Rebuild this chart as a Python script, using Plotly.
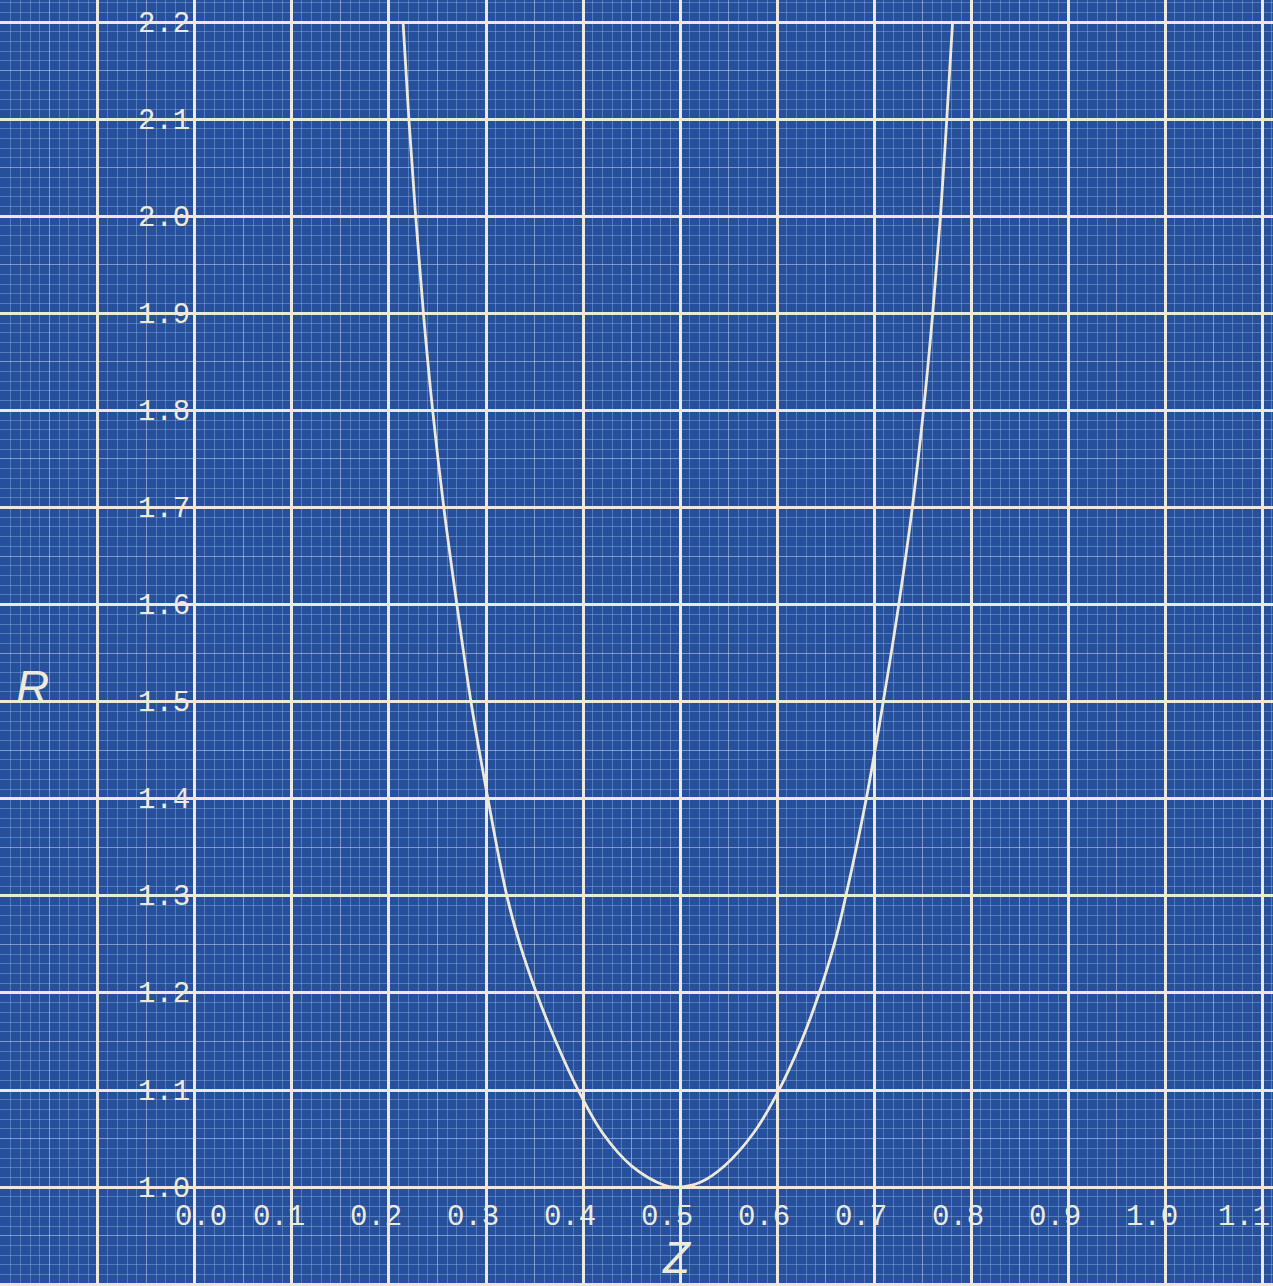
import plotly.graph_objects as go

# ---- data ----
z_values = [0.2145, 0.2205, 0.2275, 0.2355, 0.245, 0.2565, 0.270, 0.2845, 0.302, 0.3215,
            0.335, 0.352, 0.372, 0.395, 0.420, 0.450, 0.484, 0.498,
            0.521, 0.546, 0.576, 0.602, 0.625, 0.6435, 0.659, 0.671,
            0.692, 0.7095, 0.7255, 0.7395, 0.751, 0.7605, 0.7685, 0.775, 0.781]
r_values = [2.2, 2.1, 2.0, 1.9, 1.8, 1.7, 1.6, 1.5, 1.4, 1.3,
            1.25, 1.2, 1.15, 1.1, 1.056, 1.022, 1.002, 1.0,
            1.005, 1.022, 1.056, 1.1, 1.15, 1.2, 1.25, 1.3,
            1.4, 1.5, 1.6, 1.7, 1.8, 1.9, 2.0, 2.1, 2.2]

x_tick_values = [0.0, 0.1, 0.2, 0.3, 0.4, 0.5, 0.6, 0.7, 0.8, 0.9, 1.0, 1.1]
x_tick_labels = ["0.0", "0.1", "0.2", "0.3", "0.4", "0.5", "0.6", "0.7", "0.8", "0.9", "1.0", "1.1"]
y_tick_values = [1.0, 1.1, 1.2, 1.3, 1.4, 1.5, 1.6, 1.7, 1.8, 1.9, 2.0, 2.1, 2.2]
y_tick_labels = ["1.0", "1.1", "1.2", "1.3", "1.4", "1.5", "1.6", "1.7", "1.8", "1.9", "2.0", "2.1", "2.2"]
x_title = "Z"
y_title = "R"

# ---- styling ----
BG = "#264f9c"
MINOR = "rgba(140,178,228,0.45)"
MEDIUM = "rgba(200,214,236,0.55)"
MAJOR = "#ece9dc"
INK = "#eeeadb"
MONO = "Courier New, Liberation Mono, monospace"

X_RANGE = [-0.2010, 1.1113]
Y_RANGE = [0.8982, 2.2227]

fig = go.Figure()
fig.add_trace(go.Scatter(
    x=z_values, y=r_values, mode="lines",
    line=dict(color=INK, width=2.8, shape="spline", smoothing=1.0),
    hoverinfo="skip", showlegend=False))
# empty trace so the overlay subplot (major grid) exists
fig.add_trace(go.Scatter(x=[], y=[], xaxis="x2", yaxis="y2", showlegend=False, hoverinfo="skip"))

common = dict(showticklabels=False, zeroline=False, showline=False, ticks="", fixedrange=True)
fig.update_layout(
    width=1273, height=1286,
    margin=dict(l=0, r=0, t=0, b=0),
    paper_bgcolor=BG, plot_bgcolor=BG,
    xaxis=dict(range=X_RANGE, tick0=0, dtick=0.05, showgrid=True, gridcolor=MEDIUM, gridwidth=1.3,
               minor=dict(tick0=0, dtick=0.01, showgrid=True, gridcolor=MINOR, gridwidth=1), **common),
    yaxis=dict(range=Y_RANGE, tick0=0, dtick=0.05, showgrid=True, gridcolor=MEDIUM, gridwidth=1.3,
               minor=dict(tick0=0, dtick=0.01, showgrid=True, gridcolor=MINOR, gridwidth=1), **common),
    xaxis2=dict(range=X_RANGE, overlaying="x", anchor="y2", tick0=0, dtick=0.1, showgrid=True,
                gridcolor=MAJOR, gridwidth=2.5, **common),
    yaxis2=dict(range=Y_RANGE, overlaying="y", anchor="x2", tick0=0, dtick=0.1, showgrid=True,
                gridcolor=MAJOR, gridwidth=2.5, **common),
)

annotations = []
n_x = len(x_tick_values)
for i, (v, t) in enumerate(zip(x_tick_values, x_tick_labels)):
    if i == 0:
        shift = 6
    elif i == n_x - 1:
        shift = -18
    else:
        shift = -13
    annotations.append(dict(x=v, y=0.969, xref="x", yref="y", text=t, showarrow=False,
                            xanchor="center", yanchor="middle", xshift=shift,
                            font=dict(family=MONO, size=29, color=INK)))
for v, t in zip(y_tick_values, y_tick_labels):
    annotations.append(dict(x=0.0, y=v, xref="x", yref="y", text=t, showarrow=False,
                            xanchor="right", yanchor="middle", xshift=-3, yshift=-2,
                            font=dict(family=MONO, size=29, color=INK)))
annotations.append(dict(x=-0.168, y=1.515, xref="x", yref="y", text="<i>" + y_title + "</i>",
                        showarrow=False, xanchor="center", yanchor="middle",
                        font=dict(family="Liberation Sans, Arial, sans-serif", size=46, color=INK)))
annotations.append(dict(x=0.497, y=0.955, xref="x", yref="y", text="<i>" + x_title + "</i>",
                        showarrow=False, xanchor="center", yanchor="top",
                        font=dict(family="Liberation Sans, Arial, sans-serif", size=44, color=INK)))
fig.update_layout(annotations=annotations)

fig.write_html("out.html")
